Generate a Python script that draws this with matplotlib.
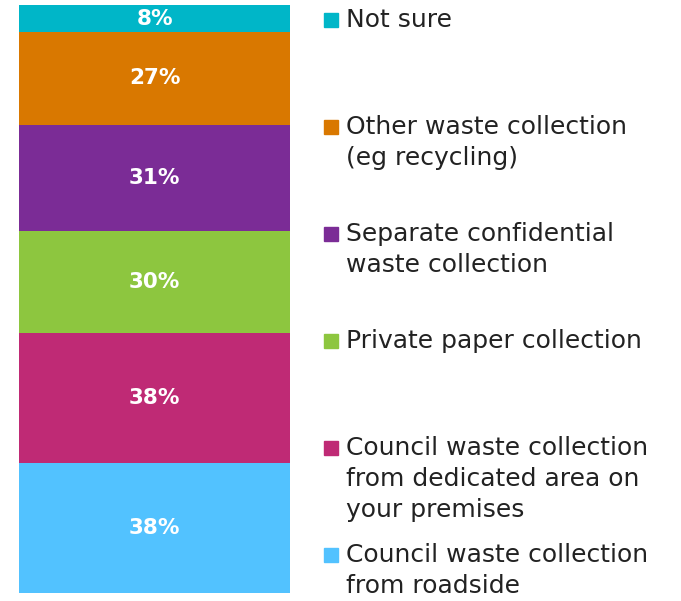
import matplotlib.pyplot as plt
from matplotlib.patches import Rectangle

plt.rcParams["font.family"] = ["DejaVu Sans"]

# bottom to top
labels = ["Council waste collection\nfrom roadside",
          "Council waste collection\nfrom dedicated area on\nyour premises",
          "Private paper collection",
          "Separate confidential\nwaste collection",
          "Other waste collection\n(eg recycling)",
          "Not sure"]
values = [38, 38, 30, 31, 27, 8]
colors = ["#52C2FF", "#BF2A75", "#8DC63F", "#7B2C96", "#D97800", "#00B6C8"]

W, H = 681, 601
fig = plt.figure(figsize=(W / 100, H / 100), dpi=100)
ax = fig.add_axes([19 / W, 8 / H, 271 / W, 588 / H])

bottom = 0
for v, c in zip(values, colors):
    ax.bar(0, v, width=1, bottom=bottom, color=c)
    ax.text(0, bottom + v / 2, f"{v}%", ha="center", va="center",
            color="white", fontsize=15.5, fontweight="bold")
    bottom += v
ax.set_xlim(-0.5, 0.5)
ax.set_ylim(0, bottom)
ax.axis("off")

# legend, top entry first
base0 = 27
step = 107
line_h = 31
for i, (lab, c) in enumerate(zip(labels[::-1], colors[::-1])):
    yb = base0 + i * step
    fig.patches.append(Rectangle((324 / W, 1 - yb / H), 14 / W, 14 / H,
                                 transform=fig.transFigure, color=c))
    for j, line in enumerate(lab.split("\n")):
        fig.text(346 / W, 1 - (yb + j * line_h) / H, line, ha="left",
                 va="baseline", fontsize=18, color="#222222")

fig.savefig("out.png", dpi=100)
